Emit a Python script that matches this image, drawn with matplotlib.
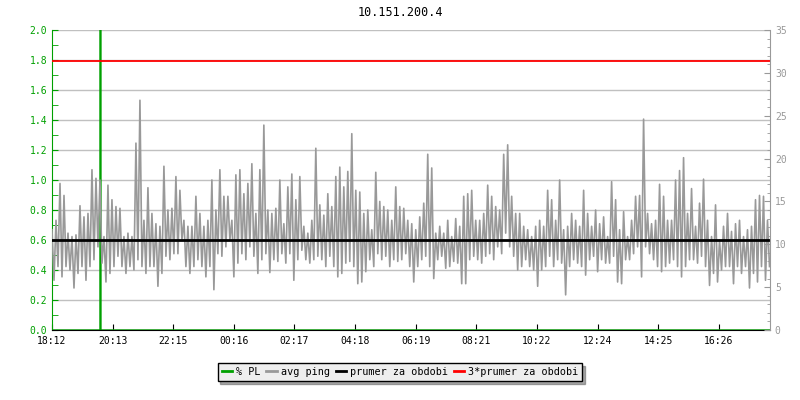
import numpy as np
import matplotlib
matplotlib.use('Agg')
import matplotlib.pyplot as plt
from matplotlib.ticker import MultipleLocator, FormatStrFormatter

# avg ping [ms], 8-minute bins (high / low value in each bin)
ping_hi = [11.7, 12.8, 17.1, 15.7, 11.3, 10.9, 11.1, 14.5, 13.2, 13.6, 18.7, 17.7, 17.5, 10.9, 16.9,
           15.2, 14.4, 14.2, 10.9, 11.3, 10.9, 21.8, 26.8, 12.8, 16.6, 13.6, 12.4, 12.1, 19.1, 14.0,
           14.2, 17.9, 16.3, 12.8, 12.1, 12.1, 15.6, 13.6, 12.1, 12.8, 17.5, 14.0, 18.7, 15.6, 15.6,
           12.8, 18.1, 18.7, 15.9, 17.1, 19.4, 13.6, 18.7, 23.9, 14.0, 13.6, 14.2, 17.5, 12.4, 16.7,
           18.2, 15.2, 17.9, 12.1, 11.3, 12.8, 21.2, 14.6, 13.4, 15.9, 14.4, 17.9, 19.0, 16.7, 18.5,
           22.9, 16.3, 16.1, 13.6, 14.0, 11.7, 18.4, 15.0, 14.4, 14.0, 12.8, 16.7, 14.4, 14.2, 12.8,
           12.4, 11.7, 13.2, 14.8, 20.5, 18.9, 11.3, 12.1, 11.3, 12.8, 10.9, 13.0, 12.1, 15.6, 15.9,
           16.3, 12.8, 12.8, 13.6, 16.9, 15.6, 14.4, 14.0, 20.5, 21.6, 15.6, 13.6, 13.6, 12.1, 11.7,
           10.9, 12.1, 12.8, 12.1, 16.3, 15.2, 12.8, 17.5, 11.7, 12.1, 13.6, 12.8, 12.1, 16.3, 13.6,
           12.1, 14.0, 12.4, 13.2, 10.9, 17.3, 15.2, 11.7, 13.8, 10.9, 12.8, 15.6, 15.7, 24.6, 13.6,
           12.4, 12.8, 17.0, 15.6, 12.8, 12.8, 17.5, 18.6, 20.1, 13.6, 16.5, 12.1, 14.8, 17.6, 12.8,
           10.9, 14.6, 10.5, 12.1, 13.6, 11.5, 12.4, 12.8, 10.9, 11.7, 12.1, 15.2, 15.7, 15.6, 12.8]
ping_lo = [5.8, 7.4, 6.2, 7.4, 7.0, 4.9, 6.6, 7.4, 5.8, 7.4, 8.2, 9.7, 7.8, 5.6, 6.6,
           7.4, 8.6, 7.4, 6.6, 7.4, 7.0, 8.2, 7.4, 6.6, 7.4, 7.4, 5.1, 6.6, 8.6, 8.2,
           8.9, 8.9, 10.5, 7.4, 6.6, 7.4, 8.2, 7.4, 6.2, 7.4, 4.7, 8.9, 8.6, 9.7, 10.5,
           6.2, 7.8, 8.9, 8.2, 9.7, 8.6, 6.6, 8.2, 8.9, 6.7, 8.2, 8.0, 8.9, 7.8, 8.9,
           5.8, 8.2, 9.3, 8.2, 7.8, 8.2, 8.6, 8.2, 7.4, 8.6, 7.4, 6.2, 6.6, 7.8, 8.0,
           7.4, 5.4, 5.6, 6.8, 8.2, 7.4, 8.9, 8.2, 8.6, 7.4, 8.2, 8.0, 8.2, 8.9, 7.4,
           5.6, 7.4, 8.2, 8.6, 7.4, 6.0, 8.2, 8.6, 7.2, 7.4, 8.0, 7.8, 5.4, 5.4, 8.2,
           8.6, 8.2, 7.8, 8.6, 8.9, 8.2, 9.7, 8.9, 11.3, 9.7, 8.6, 7.0, 7.4, 8.2, 7.4,
           7.0, 5.1, 7.0, 7.4, 8.6, 7.4, 8.2, 7.8, 4.1, 7.4, 8.2, 7.8, 7.4, 6.4, 8.2,
           8.6, 6.8, 8.2, 7.8, 7.8, 8.6, 5.6, 5.4, 8.2, 8.2, 8.9, 9.7, 6.2, 9.7, 8.9,
           8.2, 7.4, 6.8, 7.4, 7.8, 8.2, 7.4, 6.2, 7.4, 8.2, 8.2, 7.8, 8.6, 7.4, 5.2,
           6.6, 5.6, 7.0, 7.4, 7.4, 5.4, 7.4, 6.6, 7.4, 4.9, 6.6, 5.6, 7.4, 5.8, 7.4]

# packet loss [%]
pl_minutes = [0, 96, 97, 98, 1436]
pl_values = [0, 0, 100, 0, 0]

avg_ping = 10.47          # prumer za obdobi [ms]
x_labels = ['18:12', '20:13', '22:15', '00:16', '02:17', '04:18',
            '06:19', '08:21', '10:22', '12:24', '14:25', '16:26']
title = '10.151.200.4'

# minutes since 18:12, two samples per 8 minute bin
t = np.arange(2 * len(ping_hi)) * 4.0
ping = np.empty(2 * len(ping_hi))
ping[0::2] = ping_hi
ping[1::2] = ping_lo

mono = 'DejaVu Sans Mono'
green = '#00a000'
grey = '#999999'

fig = plt.figure(figsize=(8, 4), dpi=100)
ax = fig.add_axes([52 / 800, 70 / 400, 718 / 800, 300 / 400])
ax2 = ax.twinx()

ax.set_xlim(0, 1437)
ax.set_ylim(0, 2.0)
ax2.set_ylim(0, 35)

ax.grid(axis='y', color='#c0c0c0', lw=1)
ax.set_axisbelow(True)

l_pl, = ax.plot(pl_minutes, pl_values, color=green, lw=1.0)
l_ping, = ax2.plot(t, ping, color=grey, lw=1.2)
l_avg = ax2.axhline(avg_ping, color='black', lw=2)
l_3avg = ax2.axhline(3 * avg_ping, color='red', lw=1.3)

# left axis
ax.yaxis.set_major_locator(MultipleLocator(0.2))
ax.yaxis.set_minor_locator(MultipleLocator(0.1))
ax.yaxis.set_major_formatter(FormatStrFormatter('%.1f'))
ax.tick_params(axis='y', which='both', direction='in', length=4, color=green,
               labelcolor=green, labelsize=7)
for lab in ax.get_yticklabels():
    lab.set_family(mono)

# right axis
ax2.yaxis.set_major_locator(MultipleLocator(5))
ax2.yaxis.set_minor_locator(MultipleLocator(1))
ax2.tick_params(axis='y', which='major', direction='in', length=4, color=grey,
                labelcolor=grey, labelsize=7)
ax2.tick_params(axis='y', which='minor', direction='in', length=2.5, color=grey)
for lab in ax2.get_yticklabels():
    lab.set_family(mono)

# time axis
ax.set_xticks(np.arange(len(x_labels)) * 121.33)
ax.set_xticklabels(x_labels, family=mono, fontsize=7)
ax.tick_params(axis='x', direction='in', length=4, color='black', pad=4)

ax.spines['top'].set_visible(False)
ax2.spines['top'].set_visible(False)
ax.spines['left'].set_color(green)
ax.spines['right'].set_visible(False)
ax.spines['bottom'].set_color('black')
ax2.spines['left'].set_visible(False)
ax2.spines['bottom'].set_visible(False)
ax2.spines['right'].set_color(grey)

fig.text(0.5, 0.97, title, ha='center', va='center', family=mono, fontsize=8.5)

leg = fig.legend([l_pl, l_ping, l_avg, l_3avg],
                 ['% PL', 'avg ping', 'prumer za obdobi', '3*prumer za obdobi'],
                 loc='center', bbox_to_anchor=(0.5, 0.07), ncol=4, frameon=True,
                 fancybox=False, shadow={'color': '#555555'}, handlelength=1.0,
                 handletextpad=0.4, columnspacing=0.6, borderpad=0.4,
                 prop={'family': mono, 'size': 7.3})
leg.get_frame().set_facecolor('#eeeeee')
leg.get_frame().set_edgecolor('black')
leg.get_frame().set_alpha(1)
for h in leg.legend_handles:
    h.set_linewidth(2)

fig.savefig('out.png', dpi=100)
